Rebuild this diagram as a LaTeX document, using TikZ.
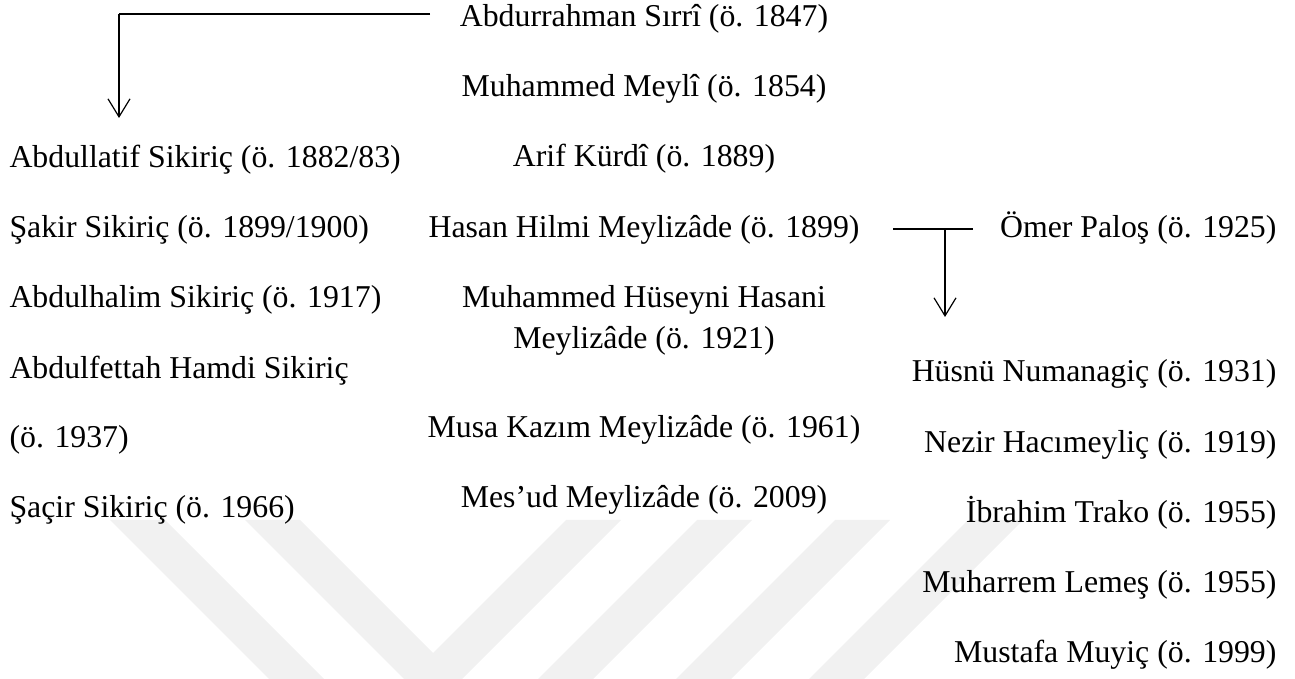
\documentclass[tikz,border=0pt]{standalone}
\usepackage{fontspec}
\setmainfont{Liberation Serif}
\usetikzlibrary{arrows.meta}
\begin{document}
\begin{tikzpicture}[x=0.3774pt, y=-0.3774pt,
  every node/.style={inner sep=0pt, font=\fontsize{12}{15.5}\selectfont},
  lcol/.style={anchor=base west},
  ccol/.style={anchor=base},
  rcol/.style={anchor=base east},
  wmark/.style={fill=gray!11},
  bar/.style={line width=0.6pt},
  down/.style={line width=0.45pt, -{Straight Barb[length=6.8pt,width=8.3pt]}}]
\useasboundingbox (0,0) rectangle (1295,679);

% watermark
\begin{scope}
\clip (0,0) rectangle (1295,679);
\fill[wmark] (110,520) -- (165,520) -- (324,679) -- (269,679) -- cycle;
\fill[wmark] (245,520) -- (300,520) -- (433,653) -- (566,520) -- (621,520) -- (462,679) -- (404,679) -- cycle;
\fill[wmark] (697,520) -- (752,520) -- (593,679) -- (538,679) -- cycle;
\fill[wmark] (835,520) -- (890,520) -- (731,679) -- (676,679) -- cycle;
\fill[wmark] (968,520) -- (1023,520) -- (864,679) -- (809,679) -- cycle;
\end{scope}

% middle line (base of a two-line node is its last line)
\node[ccol] (sirri) at (644,27) {Abdurrahman Sırrî (ö. 1847)};
\node[ccol] (meyli) at (644,97) {Muhammed Meylî (ö. 1854)};
\node[ccol] (kurdi) at (644,167) {Arif Kürdî (ö. 1889)};
\node[ccol] (hilmi) at (644,238) {Hasan Hilmi Meylizâde (ö. 1899)};
\node[ccol, align=center] (huseyni) at (644,349) {Muhammed Hüseyni Hasani\\Meylizâde (ö. 1921)};
\node[ccol] (kazim) at (644,438) {Musa Kazım Meylizâde (ö. 1961)};
\node[ccol] (mesud) at (644,508) {Mes’ud Meylizâde (ö. 2009)};

% left line
\node[lcol] (latif) at (9,168) {Abdullatif Sikiriç (ö. 1882/83)};
\node[lcol] (sakir) at (9,238) {Şakir Sikiriç (ö. 1899/1900)};
\node[lcol] (halim) at (9,308) {Abdulhalim Sikiriç (ö. 1917)};
\node[lcol, align=left] (fettah) at (9,448) {Abdulfettah Hamdi Sikiriç\\[10.9pt](ö. 1937)};
\node[lcol] (sacir) at (9,518) {Şaçir Sikiriç (ö. 1966)};

% right line
\node[rcol] (palos) at (1277,238) {Ömer Paloş (ö. 1925)};
\node[rcol] (husnu) at (1277,382) {Hüsnü Numanagiç (ö. 1931)};
\node[rcol] (nezir) at (1277,453) {Nezir Hacımeyliç (ö. 1919)};
\node[rcol] (trako) at (1277,523) {İbrahim Trako (ö. 1955)};
\node[rcol] (lemes) at (1277,593) {Muharrem Lemeş (ö. 1955)};
\node[rcol] (muyic) at (1277,662) {Mustafa Muyiç (ö. 1999)};

\coordinate (tEnd) at (430,14);
\coordinate (tTip) at (119,118);
\coordinate (hL) at (893,229);
\coordinate (hR) at (973,229);
\coordinate (hTip) at (945,317);

\path[draw,bar] (tEnd) -- (tTip |- tEnd);
\path[draw,down] (tTip |- tEnd) -- (tTip);
\path[draw,bar] (hL) -- (hR);
\path[draw,down] (hTip |- hL) -- (hTip);
\end{tikzpicture}
\end{document}
